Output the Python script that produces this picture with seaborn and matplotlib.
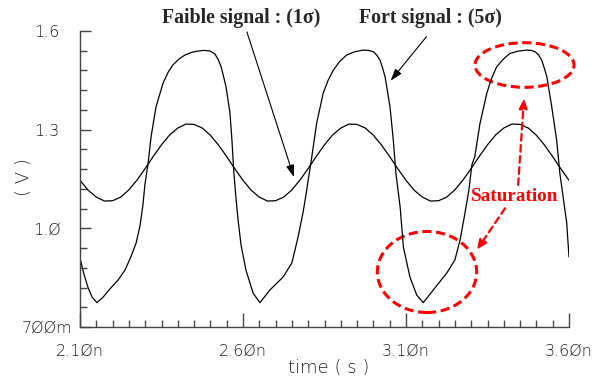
import numpy as np
import pandas as pd
import seaborn as sns
from matplotlib import pyplot as plt
from matplotlib import ticker as plticker
from matplotlib.patches import Ellipse

# weak signal (1 sigma), read every 25 ps
t_weak = [2.100, 2.125, 2.150, 2.175, 2.200, 2.225, 2.250, 2.275, 2.300, 2.325,
          2.350, 2.375, 2.400, 2.425, 2.450, 2.475, 2.500, 2.525, 2.550, 2.575,
          2.600, 2.625, 2.650, 2.675, 2.700, 2.725, 2.750, 2.775, 2.800, 2.825,
          2.850, 2.875, 2.900, 2.925, 2.950, 2.975, 3.000, 3.025, 3.050, 3.075,
          3.100, 3.125, 3.150, 3.175, 3.200, 3.225, 3.250, 3.275, 3.300, 3.325,
          3.350, 3.375, 3.400, 3.425, 3.450, 3.475, 3.500, 3.525, 3.550, 3.575,
          3.600]
v_weak = [1.146, 1.116, 1.095, 1.083, 1.084, 1.095, 1.117, 1.147, 1.182, 1.219,
          1.254, 1.284, 1.305, 1.317, 1.316, 1.305, 1.283, 1.253, 1.218, 1.181,
          1.146, 1.116, 1.095, 1.083, 1.084, 1.095, 1.117, 1.147, 1.182, 1.219,
          1.254, 1.284, 1.305, 1.317, 1.316, 1.305, 1.283, 1.253, 1.218, 1.181,
          1.146, 1.116, 1.095, 1.083, 1.084, 1.095, 1.117, 1.147, 1.182, 1.219,
          1.254, 1.284, 1.305, 1.317, 1.316, 1.305, 1.283, 1.253, 1.218, 1.181,
          1.146]

# strong signal (5 sigma)
t_strong = [2.100, 2.112, 2.125, 2.137, 2.152, 2.171, 2.192, 2.217, 2.238, 2.256,
            2.272, 2.284, 2.293, 2.299, 2.309, 2.318, 2.333, 2.355, 2.370, 2.385,
            2.404, 2.422, 2.442, 2.462, 2.481, 2.499, 2.514, 2.524, 2.533, 2.540,
            2.548, 2.560, 2.566, 2.572, 2.579, 2.585, 2.594, 2.609, 2.631, 2.652,
            2.683, 2.723, 2.750, 2.769, 2.784, 2.793, 2.800, 2.811, 2.826, 2.846,
            2.861, 2.877, 2.897, 2.918, 2.943, 2.969, 2.985, 3.000, 3.010, 3.020,
            3.028, 3.036, 3.051, 3.061, 3.069, 3.082, 3.092, 3.112, 3.133, 3.153,
            3.184, 3.225, 3.250, 3.266, 3.281, 3.293, 3.302, 3.311, 3.327, 3.348,
            3.362, 3.378, 3.398, 3.419, 3.445, 3.470, 3.484, 3.496, 3.507, 3.516,
            3.524, 3.532, 3.547, 3.562, 3.572, 3.579, 3.593, 3.600]
v_strong = [0.909, 0.861, 0.819, 0.791, 0.774, 0.791, 0.816, 0.843, 0.873, 0.913,
            0.955, 1.007, 1.071, 1.132, 1.199, 1.278, 1.369, 1.442, 1.474, 1.497,
            1.515, 1.527, 1.535, 1.539, 1.541, 1.539, 1.530, 1.513, 1.491, 1.463,
            1.430, 1.351, 1.269, 1.168, 1.086, 1.025, 0.949, 0.873, 0.803, 0.774,
            0.813, 0.852, 0.895, 0.974, 1.047, 1.101, 1.147, 1.217, 1.320, 1.411,
            1.450, 1.481, 1.508, 1.527, 1.537, 1.542, 1.541, 1.537, 1.527, 1.512,
            1.488, 1.460, 1.369, 1.269, 1.168, 1.065, 0.943, 0.852, 0.797, 0.774,
            0.813, 0.864, 0.904, 0.965, 1.047, 1.117, 1.193, 1.218, 1.319, 1.411,
            1.455, 1.491, 1.514, 1.532, 1.539, 1.542, 1.541, 1.537, 1.527, 1.512,
            1.488, 1.461, 1.370, 1.269, 1.167, 1.117, 1.016, 0.913]

x_ticks = [2.10, 2.60, 3.10, 3.60]
x_labels = ['2.1Øn', '2.6Øn', '3.1Øn', '3.6Øn']
y_ticks = [0.7, 1.0, 1.3, 1.6]
y_labels = ['7ØØm', '1.Ø', '1.3', '1.6']

sns.set_theme(style='white')
plt.rcParams['font.family'] = ['DejaVu Sans']

fig = plt.figure(figsize=(6.02, 3.80), dpi=100)
ax = fig.add_axes([80 / 602, 53 / 380, 489 / 602, 296 / 380])

weak = pd.DataFrame({'time': t_weak, 'V': v_weak})
strong = pd.DataFrame({'time': t_strong, 'V': v_strong})
sns.lineplot(data=weak, x='time', y='V', ax=ax, color='black', lw=0.9,
             estimator=None, sort=False)
sns.lineplot(data=strong, x='time', y='V', ax=ax, color='black', lw=0.9,
             estimator=None, sort=False)

ax.set_xlim(2.10, 3.60)
ax.set_ylim(0.7, 1.6)

# axis look: only left and bottom, ticks pointing inside
for side in ['top', 'right']:
    ax.spines[side].set_visible(False)
for side in ['left', 'bottom']:
    ax.spines[side].set_color('#444444')
    ax.spines[side].set_linewidth(1.0)

ax.set_xticks(x_ticks, x_labels)
ax.set_yticks(y_ticks, y_labels)
ax.xaxis.set_minor_locator(plticker.MultipleLocator(0.05))
ax.yaxis.set_minor_locator(plticker.MultipleLocator(0.06, offset=0.04))
ax.tick_params(which='both', bottom=True, left=True, direction='in',
               color='#444444', width=1.0)
ax.tick_params(axis='x', which='major', length=10, pad=12, labelsize=11.5,
               labelcolor='#222222')
ax.tick_params(axis='x', which='minor', length=5)
ax.tick_params(axis='y', which='major', length=8, pad=24, labelsize=11.5,
               labelcolor='#222222')
ax.tick_params(axis='y', which='minor', length=5)
plt.setp(ax.get_yticklabels(), ha='center', fontweight='light')
plt.setp(ax.get_xticklabels(), fontweight='light')

ax.set_xlabel('time ( s )', fontsize=13, color='#222222', va='center',
              fontweight='light')
ax.set_ylabel('( V )', fontsize=13, color='#222222', va='center',
              fontweight='light')
ax.xaxis.set_label_coords(0.509, -0.14)
ax.yaxis.set_label_coords(-0.1145, 0.507)

# annotations
fig.text(162 / 602, 1 - 23 / 380, 'Faible signal : (1σ)', family='Liberation Serif',
         weight='bold', fontsize=14.3, ha='left', va='baseline')
fig.text(359 / 602, 1 - 23 / 380, 'Fort signal : (5σ)', family='Liberation Serif',
         weight='bold', fontsize=14.3, ha='left', va='baseline')
fig.text(471 / 602, 1 - 201 / 380, 'Saturation', family='Liberation Serif',
         weight='bold', fontsize=13.8, color='red', ha='left', va='baseline')

black_arrow = dict(arrowstyle='-|>,head_length=0.6,head_width=0.2', color='black',
                   lw=0.8, shrinkA=0, shrinkB=0)
ax.annotate('', xy=(2.756, 1.156), xytext=(2.612, 1.597), arrowprops=black_arrow,
            annotation_clip=False)
ax.annotate('', xy=(3.053, 1.449), xytext=(3.163, 1.583), arrowprops=black_arrow,
            annotation_clip=False)

red_arrow = dict(arrowstyle='-|>,head_length=0.5,head_width=0.2', color='red',
                 lw=1.6, linestyle=(0, (3, 2)), shrinkA=0, shrinkB=0)
ax.annotate('', xy=(3.462, 1.396), xytext=(3.444, 1.132), arrowprops=red_arrow)
ax.annotate('', xy=(3.317, 0.934), xytext=(3.404, 1.061), arrowprops=red_arrow)

ax.add_patch(Ellipse((3.4635, 1.4966), 0.3037, 0.1356, fill=False, ec='red',
                     lw=2.2, ls=(0, (3, 1.5)), clip_on=False))
ax.add_patch(Ellipse((3.1644, 0.8673), 0.3046, 0.2463, fill=False, ec='red',
                     lw=2.2, ls=(0, (3, 1.5)), clip_on=False))

fig.savefig('out.png', dpi=100)
